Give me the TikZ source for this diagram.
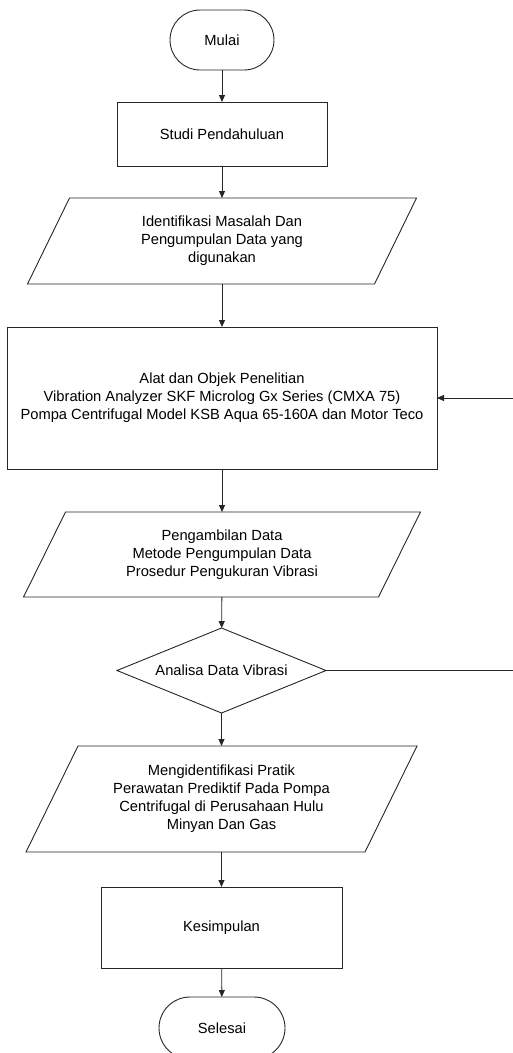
\documentclass[tikz,border=0pt]{standalone}
\usepackage{fontspec}
\setmainfont{Liberation Sans}
\usetikzlibrary{shapes.geometric,arrows.meta,calc}
\begin{document}
\begin{tikzpicture}[x=1pt,y=-1pt,
  every node/.style={font=\fontsize{14.7}{18}\selectfont, align=center, inner sep=0pt, outer sep=0pt},
  lin/.style={line width=0.9pt, draw=black!85},
  box/.style={lin, draw, rectangle},
  term/.style={lin, draw, rectangle, rounded corners=30pt},
  para/.style={rectangle, draw=none},
  dec/.style={lin, draw, diamond, aspect=2.46},
  arr/.style={lin, -{Triangle[length=7pt,width=6pt]}}
]
\useasboundingbox (0,0) rectangle (513,1053);

\node[term, minimum width=104pt, minimum height=60pt] (mulai) at (222,40) {Mulai};
\node[box, minimum width=210pt, minimum height=64pt] (studi) at (222,134) {Studi Pendahuluan};
\node[para, minimum width=347pt, minimum height=86pt] (p1) at (222,241) {Identifikasi Masalah Dan\\Pengumpulan Data yang\\digunakan};
\node[box, minimum width=430pt, minimum height=142pt] (alat) at (222,398) {Alat dan Objek Penelitian\\Vibration Analyzer SKF Microlog Gx Series (CMXA 75)\\Pompa Centrifugal Model KSB Aqua 65-160A dan Motor Teco};
\node[para, minimum width=355pt, minimum height=85pt] (p2) at (222,554.5) {Pengambilan Data\\Metode Pengumpulan Data\\Prosedur Pengukuran Vibrasi};
\node[dec, minimum width=209pt, minimum height=85pt] (ana) at (221.5,670.5) {Analisa Data Vibrasi};
\node[para, minimum width=339pt, minimum height=106pt] (p3) at (221.5,799) {Mengidentifikasi Pratik\\Perawatan Prediktif Pada Pompa\\Centrifugal di Perusahaan Hulu\\Minyan Dan Gas};
\node[box, minimum width=241pt, minimum height=81pt] (kes) at (221.5,927.5) {Kesimpulan};
\node[term, minimum width=126pt, minimum height=62pt, rounded corners=31pt] (sel) at (222,1028) {Selesai};

% parallelogram outlines
\draw[lin] ([xshift=21pt]p1.north west) -- ([xshift=21pt]p1.north east) -- ([xshift=-21pt]p1.south east) -- ([xshift=-21pt]p1.south west) -- cycle;
\draw[lin] ([xshift=21pt]p2.north west) -- ([xshift=21pt]p2.north east) -- ([xshift=-21pt]p2.south east) -- ([xshift=-21pt]p2.south west) -- cycle;
\draw[lin] ([xshift=26pt]p3.north west) -- ([xshift=26pt]p3.north east) -- ([xshift=-26pt]p3.south east) -- ([xshift=-26pt]p3.south west) -- cycle;

% connectors
\draw[arr] (mulai) -- (studi);
\draw[arr] (studi) -- (p1);
\draw[arr] (p1) -- (alat);
\draw[arr] (alat) -- (p2);
\draw[arr] (p2) -- (ana);
\draw[arr] (ana) -- (p3);
\draw[arr] (p3) -- (kes);
\draw[arr] (kes) -- (sel);

\coordinate (r1) at (530,670.5);
\coordinate (r2) at (530,398);
\draw[arr] (ana.east) -- (r1) -- (r2) -- (alat.east);
\end{tikzpicture}
\end{document}
